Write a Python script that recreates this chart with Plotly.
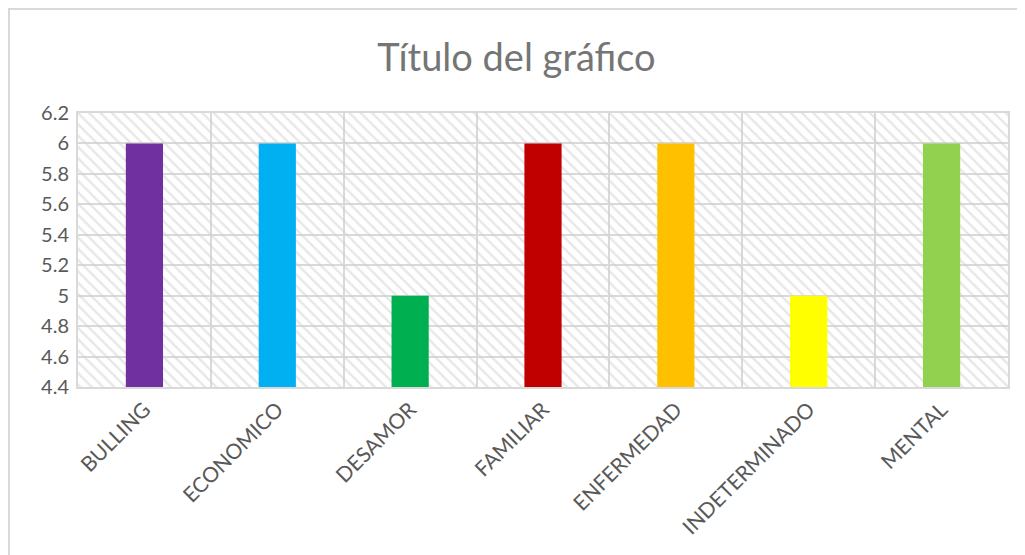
import plotly.graph_objects as go

categories = ["BULLING", "ECONOMICO", "DESAMOR", "FAMILIAR", "ENFERMEDAD", "INDETERMINADO", "MENTAL"]
values = [6, 6, 5, 6, 6, 5, 6]
colors = ["#7030A0", "#00B0F0", "#00B050", "#C00000", "#FFC000", "#FFFF00", "#92D050"]
y_min, y_max = 4.4, 6.2
tick_vals = [4.4, 4.6, 4.8, 5, 5.2, 5.4, 5.6, 5.8, 6, 6.2]
tick_text = ["4.4", "4.6", "4.8", "5", "5.2", "5.4", "5.6", "5.8", "6", "6.2"]

W, H = 1017, 547
L, R, T, B = 70, 17, 105, 168
PW, PH = W - L - R, H - T - B

fig = go.Figure()
# hatched plot-area background
fig.add_trace(go.Bar(
    x=categories, y=[y_max - y_min] * len(categories), base=[y_min] * len(categories),
    width=1, marker=dict(color="rgba(0,0,0,0)", line=dict(width=0),
                         pattern=dict(shape="\\", fgcolor="#cfcfcf", bgcolor="rgba(0,0,0,0)",
                                      size=8, solidity=0.3)),
    hoverinfo="skip", showlegend=False,
))
fig.add_trace(go.Bar(
    x=categories, y=[v - y_min for v in values], base=[y_min] * len(values),
    marker=dict(color=colors, line=dict(width=0)), showlegend=False,
))

fig.update_layout(
    width=W, height=H,
    margin=dict(l=L, r=R, t=T, b=B),
    paper_bgcolor="white", plot_bgcolor="white",
    barmode="overlay", bargap=0.72,
    title=dict(text="Título del gráfico", x=0.5, xanchor="center", y=1 - 50 / H, yanchor="middle",
               font=dict(family="Lato, Open Sans, sans-serif", size=38, color="#757575")),
    font=dict(family="Lato, Open Sans, sans-serif", color="#595959"),
    xaxis=dict(type="category", tickson="boundaries", showgrid=True, gridcolor="#d9d9d9", gridwidth=2,
               ticks="", tickangle=-45, tickfont=dict(size=21, color="#595959"),
               showline=True, linecolor="#d9d9d9", linewidth=2, mirror=True,
               range=[-0.5, len(categories) - 0.5]),
    yaxis=dict(range=[y_min, y_max], tickvals=tick_vals, ticktext=tick_text, showgrid=True,
               gridcolor="#d9d9d9", gridwidth=2, zeroline=False, ticks="",
               tickfont=dict(size=20, color="#595959"), ticklabelstandoff=3,
               showline=True, linecolor="#d9d9d9", linewidth=2, mirror=True),
    shapes=[dict(type="rect", xref="paper", yref="paper",
                 x0=(1 - L) / PW, x1=(W + 20 - L) / PW,
                 y0=-(H + 20 - T - PH) / PH, y1=1 + (T - 1) / PH,
                 line=dict(color="#d9d9d9", width=2), fillcolor="rgba(0,0,0,0)", layer="below")],
)

fig.write_html("out.html")
